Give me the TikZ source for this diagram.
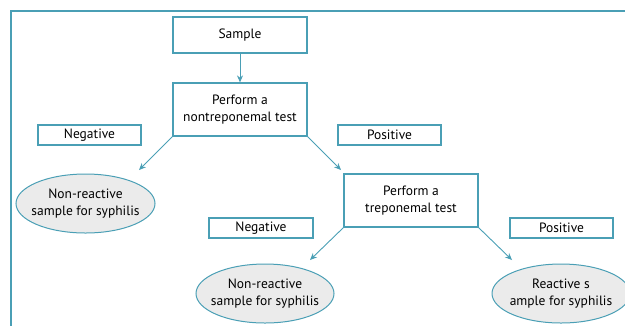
\documentclass[tikz,border=0pt]{standalone}
\usepackage{fontspec}
\setmainfont{PT Sans}
\usetikzlibrary{shapes.geometric,arrows.meta}
\definecolor{teal1}{HTML}{4A9FB5}
\definecolor{ellfill}{HTML}{EBEBEB}
\tikzset{
  px/.style={x=1bp,y=-1bp},
  txt/.style={font=\fontsize{13.5bp}{17bp}\selectfont, text=black, align=center, inner sep=0pt},
  box/.style={txt, draw=teal1, line width=1.2bp, rectangle},
  lab/.style={txt, draw=teal1, line width=1.2bp, rectangle, minimum width=103bp, minimum height=20bp},
  ell/.style={txt, draw=teal1, fill=ellfill, line width=1bp, ellipse, inner xsep=-10bp, minimum width=138bp, minimum height=59bp},
  conn/.style={draw=teal1, line width=0.9bp, -{Stealth[length=7bp,width=6bp]}}
}
\begin{document}
\begin{tikzpicture}[px]
\useasboundingbox (0,0) rectangle (625,325);
\begin{scope}
\clip (0,0) rectangle (625,325);
\draw[teal1, line width=1.3bp] (11,330) -- (11,11) -- (630,11);
\node[box, minimum width=134bp, minimum height=36bp] (sample) at (240,35) {Sample};
\node[box, minimum width=134bp, minimum height=53bp] (nt) at (240,109.5) {Perform a\\nontreponemal test};
\node[lab] (neg1) at (89.5,135) {Negative};
\node[lab] (pos1) at (389.5,135) {Positive};
\node[ell, minimum width=139bp] (e1) at (85.5,203.5) {Non-reactive\\sample for syphilis};
\node[box, minimum width=134bp, minimum height=53bp] (tt) at (411,200.5) {Perform a\\treponemal test};
\node[lab, minimum width=104bp] (neg2) at (261,228) {Negative};
\node[lab] (pos2) at (561.5,228) {Positive};
\node[ell] (e2) at (265,293.5) {Non-reactive\\sample for syphilis};
\node[ell] (e3) at (561,293.5) {Reactive s\\ample for syphilis};
\coordinate (t1) at (139,170);
\coordinate (t2) at (341,170);
\coordinate (t3) at (310,260);
\coordinate (t4) at (512,260);
\draw[conn] (sample.south) -- (nt.north);
\draw[conn] (nt.south west) -- (t1);
\draw[conn] (nt.south east) -- (t2);
\draw[conn] (tt.south west) -- (t3);
\draw[conn] (tt.south east) -- (t4);
\end{scope}
\end{tikzpicture}
\end{document}
